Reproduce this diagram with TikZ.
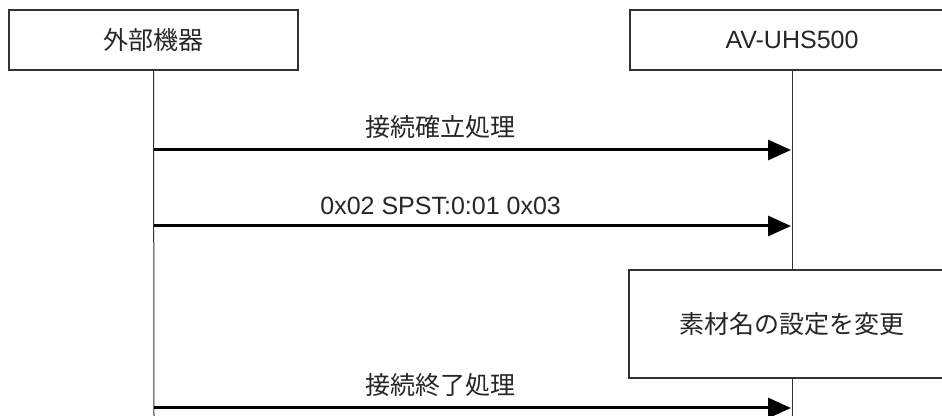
\documentclass[tikz,border=0pt]{standalone}
\usepackage{fontspec}
\setmainfont{Liberation Sans}
\newfontfamily\jp{Noto Sans CJK JP}
\usetikzlibrary{arrows.meta}

\tikzstyle{seqfig}=[x=0.5pt,y=-0.5pt,font=\fontsize{12.5}{15}\selectfont]
\tikzstyle{actor}=[draw=black!80,line width=0.7pt,text=black!85,inner sep=0pt]
\tikzstyle{lifeline}=[draw=black!80,line width=0.5pt]
\tikzstyle{msg}=[line width=1.5pt,-{Triangle[length=11.5pt,width=10pt]}]
\tikzstyle{msglabel}=[pos=0.45,above=5pt,text=black!85,inner sep=0pt]

\begin{document}
\begin{tikzpicture}[style=seqfig]
\useasboundingbox (0,0) rectangle (942,416);
\clip (0,0) rectangle (942,416);

% actors
\node[actor,minimum width=144.5pt,minimum height=30pt] (ext) at (153.5,40) {\jp 外部機器};
\node[actor,minimum width=162pt,minimum height=30pt] (av) at (792,40) {AV-UHS500};

% lifelines
\coordinate (extend) at (154,416);
\coordinate (avend) at (792,416);
\draw[lifeline] (ext.south) -- (extend);
\draw[lifeline] (av.south) -- (avend);

% processing on the device
\node[actor,fill=white,minimum width=163pt,minimum height=54pt] (proc) at (792,324) {\jp 素材名の設定を変更};

% messages
\foreach \y/\txt [count=\i] in {150/{\jp 接続確立処理},226/{0x02 SPST:0:01 0x03},408/{\jp 接続終了処理}}{%
    \coordinate (from\i) at (154,\y);
    \coordinate (to\i) at (791,\y);
    \draw[msg] (from\i) -- (to\i) node[msglabel] {\txt};
}

\end{tikzpicture}
\end{document}
